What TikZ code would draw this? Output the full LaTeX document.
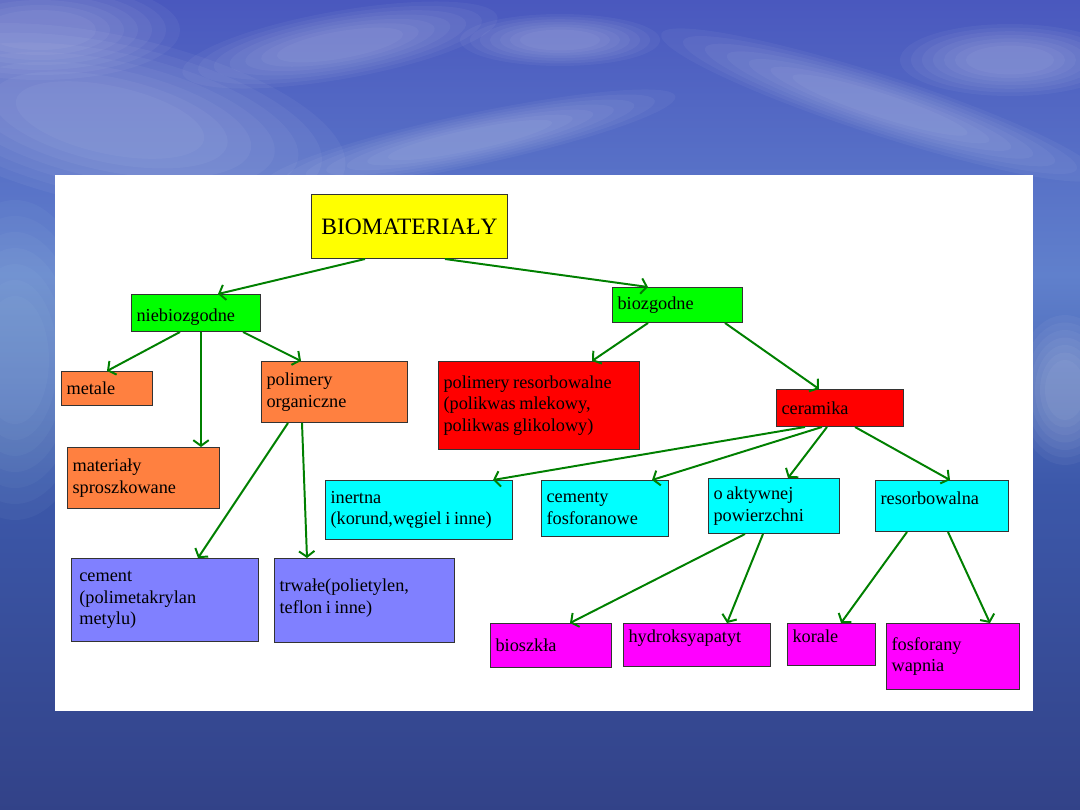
\documentclass[tikz,border=0pt]{standalone}
\usepackage{fontspec}
\setmainfont{Liberation Serif}
\usetikzlibrary{arrows.meta,positioning,calc}
\definecolor{arrowgreen}{RGB}{0,128,0}
\definecolor{boxyellow}{RGB}{255,255,0}
\definecolor{boxgreen}{RGB}{0,255,0}
\definecolor{boxorange}{RGB}{255,128,64}
\definecolor{boxred}{RGB}{255,0,0}
\definecolor{boxcyan}{RGB}{0,255,255}
\definecolor{boxviolet}{RGB}{128,128,255}
\definecolor{boxmagenta}{RGB}{255,0,255}
\definecolor{seadeep}{RGB}{34,38,84}
\definecolor{seamid}{RGB}{44,52,114}
\definecolor{seahaze}{RGB}{60,88,170}
\definecolor{horizon}{RGB}{96,128,204}
\definecolor{skymid}{RGB}{74,88,190}
\definecolor{skytop}{RGB}{64,72,178}
\definecolor{mistcyan}{RGB}{200,235,245}
\pgfdeclareverticalshading{skysea}{100bp}{color(0bp)=(seadeep); color(12bp)=(seamid); color(45bp)=(seahaze); color(58bp)=(horizon); color(75bp)=(skymid); color(100bp)=(skytop)}

\newcommand{\boxfont}{\fontsize{13}{15.5}\selectfont\spaceskip=0.2em}

\tikzset{
  box/.style 2 args={draw=black!80, line width=0.7pt, anchor=north west,
    minimum width=#1cm, minimum height=#2cm, text width=#1cm-7.2pt,
    inner xsep=3.6pt, inner ysep=0pt, align=flush left, font=\boxfont},
  conn/.style={draw=arrowgreen, line width=1.4pt,
    -{Straight Barb[length=4pt,width=11pt]}},
  haze/.style={fill=#1, opacity=0.045}
}

\begin{document}
\begin{tikzpicture}[x=0.025cm, y=-0.025cm]
  \useasboundingbox (0,0) rectangle (1080,810);
  % sky and sea
  \shade[shading=skysea] (0,0) rectangle (1080,810);
  \foreach \cx/\cy/\rx/\ry/\rot/\col in {110/120/240/85/-12/white, 40/30/140/50/0/white,
      340/45/160/34/10/white, 560/40/100/26/0/white, 470/140/210/26/12/white,
      880/105/230/30/-18/white, 1010/60/110/36/0/white,
      15/360/85/160/0/mistcyan, 1065/390/50/75/0/white} {
    \foreach \k in {1,0.9,...,0.3}
      \fill[haze=\col, rotate around={\rot:(\cx,\cy)}] (\cx,\cy) ellipse ({\rx*\k} and {\ry*\k});
  }
  % white panel
  \fill[white] (55,175) rectangle (1033,711);

  \node[draw=black!80, line width=0.7pt, fill=boxyellow, anchor=north west,
    minimum width=4.9cm, minimum height=1.6cm,
    font=\fontsize{16.7}{19}\selectfont] (bio) at (311,194) {BIOMATERIAŁY};

  \node[box={3.225}{0.925}, fill=boxgreen, text height=15pt] (nieb) at (131,294) {niebiozgodne};
  \node[box={2.275}{0.85}, fill=boxorange] (metale) at (61,371) {metale};
  \node[box={3.65}{1.525}, fill=boxorange] (polorg) at (261,361) {polimery\\organiczne};
  \node[box={3.8}{1.525}, fill=boxorange] (mater) at (67,447) {materiały\\sproszkowane};
  \node[box={4.675}{2.075}, fill=boxviolet] (cement) at (71,558) {\hspace*{2pt}cement\\\hspace*{2pt}(polimetakrylan\\\hspace*{2pt}metylu)};
  \node[box={4.5}{2.1}, fill=boxviolet, text depth=22pt] (trwale) at (274,558) {trwałe(polietylen,\\teflon i inne)};

  \node[box={3.25}{0.875}, fill=boxgreen] (bioz) at (612,287) {biozgodne};
  \node[box={5.025}{2.2}, fill=boxred] (polres) at (438,361) {polimery resorbowalne\\(polikwas mlekowy,\\polikwas glikolowy)};
  \node[box={3.175}{0.925}, fill=boxred] (ceram) at (776,389) {ceramika};
  \node[box={4.675}{1.475}, fill=boxcyan] (inert) at (325,480) {inertna\\(korund,węgiel i inne)};
  \node[box={3.175}{1.4}, fill=boxcyan] (cemfos) at (541,480) {cementy\\fosforanowe};
  \node[box={3.275}{1.375}, fill=boxcyan] (aktyw) at (708,478) {o aktywnej\\powierzchni};
  \node[box={3.325}{1.275}, fill=boxcyan, text depth=10.5pt] (resorb) at (875,480) {resorbowalna};
  \node[box={3.025}{1.1}, fill=boxmagenta] (bioszk) at (490,623) {bioszkła};
  \node[box={3.675}{1.075}, fill=boxmagenta, text depth=12pt] (hydro) at (623,623) {hydroksyapatyt};
  \node[box={2.2}{1.05}, fill=boxmagenta, text depth=11.5pt] (korale) at (787,623) {korale};
  \node[box={3.325}{1.65}, fill=boxmagenta] (fosf) at (886,623) {fosforany\\wapnia};

  % arrows
  \draw[conn] ([shift={(54,0)}]bio.south west) -- ([shift={(87,0)}]nieb.north west);
  \draw[conn] ([shift={(134,0)}]bio.south west) -- ([shift={(36,0)}]bioz.north west);
  \draw[conn] ([shift={(49,0)}]nieb.south west) -- ([shift={(46,0)}]metale.north west);
  \draw[conn] ([shift={(70,0)}]nieb.south west) -- ([shift={(134,0)}]mater.north west);
  \draw[conn] ([shift={(112,0)}]nieb.south west) -- ([shift={(40,0)}]polorg.north west);
  \draw[conn] ([shift={(27,0)}]polorg.south west) -- ([shift={(127,0)}]cement.north west);
  \draw[conn] ([shift={(41,0)}]polorg.south west) -- ([shift={(33,0)}]trwale.north west);
  \draw[conn] ([shift={(36,0)}]bioz.south west) -- ([shift={(154,0)}]polres.north west);
  \draw[conn] ([shift={(113,0)}]bioz.south west) -- ([shift={(43,0)}]ceram.north west);
  \draw[conn] ([shift={(29,0)}]ceram.south west) -- ([shift={(168,0)}]inert.north west);
  \draw[conn] ([shift={(46,0)}]ceram.south west) -- ([shift={(111,0)}]cemfos.north west);
  \draw[conn] ([shift={(51,0)}]ceram.south west) -- ([shift={(80,0)}]aktyw.north west);
  \draw[conn] ([shift={(79,0)}]ceram.south west) -- ([shift={(75,0)}]resorb.north west);
  \draw[conn] ([shift={(37,0)}]aktyw.south west) -- ([shift={(80,0)}]bioszk.north west);
  \draw[conn] ([shift={(55,0)}]aktyw.south west) -- ([shift={(104,0)}]hydro.north west);
  \draw[conn] ([shift={(32,0)}]resorb.south west) -- ([shift={(54,0)}]korale.north west);
  \draw[conn] ([shift={(73,0)}]resorb.south west) -- ([shift={(104,0)}]fosf.north west);
\end{tikzpicture}
\end{document}
